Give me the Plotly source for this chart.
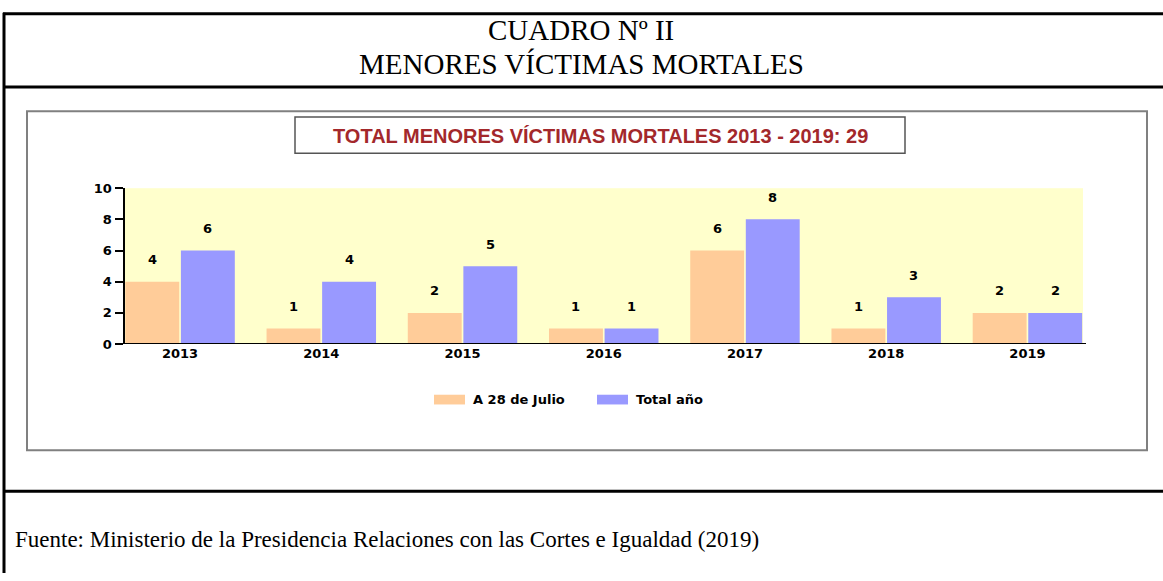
import plotly.graph_objects as go

# ---- data ----
years = ["2013", "2014", "2015", "2016", "2017", "2018", "2019"]
a28_julio = [4, 1, 2, 1, 6, 1, 2]
total_anio = [6, 4, 5, 1, 8, 3, 2]
series_names = ["A 28 de Julio", "Total año"]
y_ticks = [0, 2, 4, 6, 8, 10]
header_lines = ["CUADRO Nº II", "MENORES VÍCTIMAS MORTALES"]
chart_title = "TOTAL MENORES VÍCTIMAS MORTALES 2013 - 2019: 29"
source_text = "Fuente: Ministerio de la Presidencia Relaciones con las Cortes e Igualdad (2019)"

W, H = 1163, 581
ORANGE = "#FFCC99"
BLUE = "#9999FF"
YELLOW = "#FFFFCC"
RED = "#A3282B"
BARGAP = 0.213
GROUPGAP = 0.03


def px_x(v):
    return v / W


def px_y(v):
    return 1 - v / H


fig = go.Figure()
fig.add_trace(go.Bar(x=years, y=a28_julio, name=series_names[0],
                     marker=dict(color=ORANGE, line=dict(width=0)), showlegend=False))
fig.add_trace(go.Bar(x=years, y=total_anio, name=series_names[1],
                     marker=dict(color=BLUE, line=dict(width=0)), showlegend=False))

plot_l, plot_r, plot_t, plot_b = 124.5, 1083, 186, 346

annotations = []
off = (1 - BARGAP) / 4
lab_font = dict(family="DejaVu Sans", size=13, color="black", weight="bold")
for i, (a, b) in enumerate(zip(a28_julio, total_anio)):
    annotations.append(dict(x=i - off, y=a, xref="x", yref="y", text=str(a),
                            showarrow=False, yshift=22, font=lab_font))
    annotations.append(dict(x=i + off, y=b, xref="x", yref="y", text=str(b),
                            showarrow=False, yshift=22, font=lab_font))

# header
serif_h = dict(family="Liberation Serif", size=29, color="black")
serif_s = dict(family="Liberation Serif", size=23, color="black")
annotations.append(dict(x=px_x(581), y=px_y(24), xref="paper", yref="paper", text=header_lines[0],
                        showarrow=False, font=serif_h, xanchor="center", yanchor="middle"))
annotations.append(dict(x=px_x(581), y=px_y(59), xref="paper", yref="paper", text=header_lines[1],
                        showarrow=False, font=serif_h, xanchor="center", yanchor="middle"))
# chart title
annotations.append(dict(x=px_x(600), y=px_y(132), xref="paper", yref="paper", text=chart_title,
                        showarrow=False, xanchor="center", yanchor="middle",
                        font=dict(family="Liberation Sans", size=20, color=RED, weight="bold")))
# source
annotations.append(dict(x=px_x(13), y=px_y(547), xref="paper", yref="paper", text=source_text,
                        showarrow=False, xanchor="left", yanchor="middle", font=serif_s))
# legend texts
leg_font = dict(family="DejaVu Sans", size=13, color="black", weight="bold")
annotations.append(dict(x=px_x(471), y=px_y(403), xref="paper", yref="paper", text=series_names[0],
                        showarrow=False, xanchor="left", yanchor="middle", font=leg_font))
annotations.append(dict(x=px_x(634), y=px_y(403), xref="paper", yref="paper", text=series_names[1],
                        showarrow=False, xanchor="left", yanchor="middle", font=leg_font))

shapes = []
# outer table lines
blk = dict(color="black", width=3)
shapes.append(dict(type="line", xref="paper", yref="paper", x0=px_x(3), x1=1, y0=px_y(7), y1=px_y(7), line=blk))
shapes.append(dict(type="line", xref="paper", yref="paper", x0=px_x(3), x1=1, y0=px_y(82), y1=px_y(82), line=blk))
shapes.append(dict(type="line", xref="paper", yref="paper", x0=px_x(3), x1=1, y0=px_y(497), y1=px_y(497), line=blk))
shapes.append(dict(type="line", xref="paper", yref="paper", x0=px_x(4), x1=px_x(4), y0=px_y(6), y1=0, line=blk))
# inner chart frame
shapes.append(dict(type="rect", xref="paper", yref="paper", x0=px_x(27), x1=px_x(1147),
                   y0=px_y(455), y1=px_y(107), line=dict(color="#808080", width=2)))
# title box
shapes.append(dict(type="rect", xref="paper", yref="paper", x0=px_x(295), x1=px_x(905),
                   y0=px_y(150), y1=px_y(113), line=dict(color="#555555", width=1.5)))
# legend swatches
shapes.append(dict(type="rect", xref="paper", yref="paper", x0=px_x(434), x1=px_x(465),
                   y0=px_y(408), y1=px_y(398), fillcolor=ORANGE, line=dict(width=0)))
shapes.append(dict(type="rect", xref="paper", yref="paper", x0=px_x(597), x1=px_x(628),
                   y0=px_y(408), y1=px_y(398), fillcolor=BLUE, line=dict(width=0)))

tick_font = dict(family="DejaVu Sans", size=13, color="black", weight="bold")
fig.update_layout(
    width=W, height=H,
    margin=dict(l=0, r=0, t=0, b=0),
    paper_bgcolor="white",
    plot_bgcolor=YELLOW,
    barmode="group",
    bargap=BARGAP,
    bargroupgap=GROUPGAP,
    showlegend=False,
    annotations=annotations,
    shapes=shapes,
    xaxis=dict(domain=[plot_l / W, plot_r / W], type="category",
               range=[-0.5 + BARGAP / 2, len(years) - 0.5 - BARGAP / 2],
               showgrid=False, zeroline=False, showline=False,
               ticks="", tickfont=tick_font, fixedrange=True),
    yaxis=dict(domain=[1 - plot_b / H, 1 - plot_t / H], range=[0, 10],
               tickvals=y_ticks, showgrid=False, zeroline=False,
               showline=True, linecolor="black", linewidth=2,
               ticks="outside", ticklen=8, tickwidth=2, tickcolor="black",
               tickfont=tick_font, fixedrange=True),
)
# x baseline (axis line at y=0)
fig.add_shape(type="line", xref="paper", yref="y", x0=(plot_l - 8) / W, x1=(plot_r + 3) / W,
              y0=0, y1=0, line=dict(color="black", width=2))

fig.write_html("out.html", config={"displayModeBar": False},
               post_script="document.body.style.margin='0';document.body.style.overflow='hidden';")
